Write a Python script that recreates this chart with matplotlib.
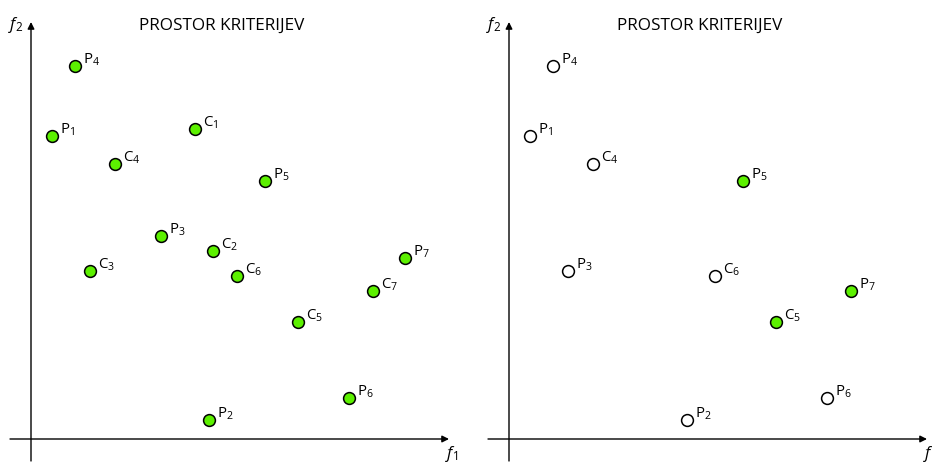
import matplotlib.pyplot as plt

# === DATA (criterion space, f1 / f2) ===
left_names = ["P1", "P2", "P3", "P4", "P5", "P6", "P7",
              "C1", "C2", "C3", "C4", "C5", "C6", "C7"]
left_f1 = [2.1, 17.8, 13.0, 4.4, 23.4, 31.8, 37.4,
           16.4, 18.2, 5.9, 8.4, 26.7, 20.6, 34.2]
left_f2 = [30.3, 1.9, 20.3, 37.3, 25.8, 4.1, 18.1,
           31.0, 18.8, 16.8, 27.5, 11.7, 16.3, 14.8]
left_green = left_names  # all points filled

right_names = ["P1", "P4", "C4", "P5", "P3", "C6", "C5", "P7", "P6", "P2"]
right_f1 = [2.1, 4.4, 8.4, 23.4, 5.9, 20.6, 26.7, 34.2, 31.8, 17.8]
right_f2 = [30.3, 37.3, 27.5, 25.8, 16.8, 16.3, 11.7, 14.8, 4.1, 1.9]
right_green = ["P5", "C5", "P7"]

title = "PROSTOR KRITERIJEV"
green = "#5cf000"

plt.rcParams['font.family'] = ['Open Sans', 'DejaVu Sans']
plt.rcParams['mathtext.fontset'] = 'custom'
plt.rcParams['mathtext.rm'] = 'Open Sans'
plt.rcParams['mathtext.it'] = 'Open Sans:italic'

fig = plt.figure(figsize=(9.32, 4.64), dpi=100)


def panel(rect, xlim, names, f1, f2, filled):
    ax = fig.add_axes(rect)
    ax.set_xlim(*xlim)
    ax.set_ylim(-2.4, 44.0)
    ax.axis("off")

    # axes with arrows
    ax.annotate("", xy=(41.8, 0), xytext=(-2.1, 0),
                arrowprops=dict(arrowstyle="-|>", color="black", lw=1.0,
                                mutation_scale=10, shrinkA=0, shrinkB=0))
    ax.annotate("", xy=(0, 41.7), xytext=(0, -2.2),
                arrowprops=dict(arrowstyle="-|>", color="black", lw=1.0,
                                mutation_scale=10, shrinkA=0, shrinkB=0))
    ax.text(-0.8, 41.5, r"$f_{\mathrm{2}}$", ha="right", va="center", fontsize=12)
    ax.text(41.4, -1.4, r"$f_{\mathrm{1}}$", ha="left", va="center", fontsize=12)
    ax.text(19.1, 41.4, title, ha="center", va="center", fontsize=12.3)

    for n, x, y in zip(names, f1, f2):
        fc = green if n in filled else "white"
        ax.plot(x, y, "o", ms=8.5, mfc=fc, mec="black", mew=1.1, zorder=3)
        ax.annotate(f"{n[0]}$_{{\\mathrm{{{n[1:]}}}}}$", (x, y), xytext=(5.5, -0.5),
                    textcoords="offset points", fontsize=10.8,
                    ha="left", va="bottom")
    return ax


panel([0.0, 0.0, 0.5, 1.0], (-3.1, 43.5), left_names, left_f1, left_f2, left_green)
panel([0.5, 0.0, 0.5, 1.0], (-4.3, 42.3), right_names, right_f1, right_f2, right_green)

plt.savefig("out.png", dpi=100)
